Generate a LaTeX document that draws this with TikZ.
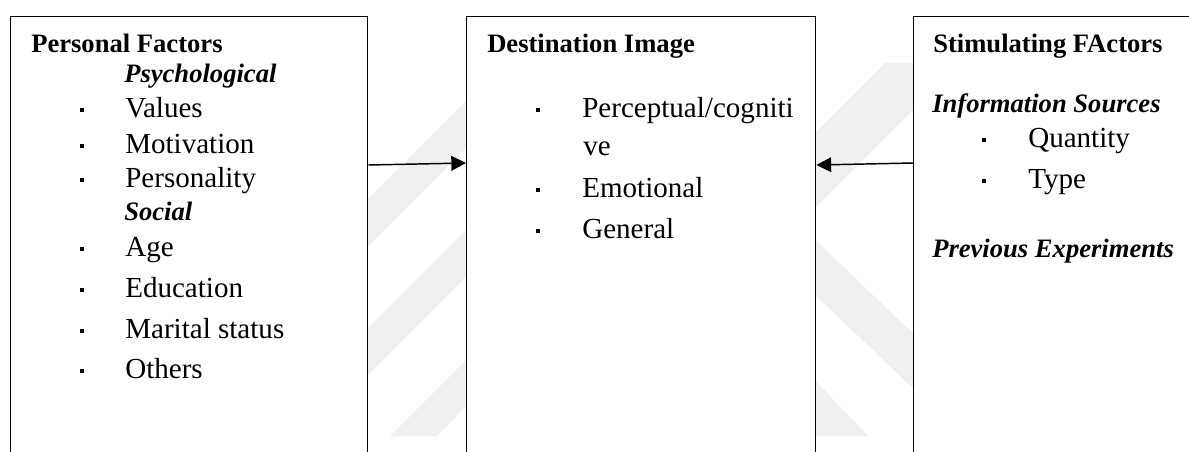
\documentclass[tikz,border=0pt]{standalone}
\usepackage{fontspec}
\setmainfont{Liberation Serif}
\usetikzlibrary{arrows.meta}
\newcommand\hdfnt{\fontsize{19.95}{24}\selectfont\bfseries}
\newcommand\subfnt{\fontsize{19.95}{24}\selectfont\bfseries\itshape}
\newcommand\itemfnt{\fontsize{21.8}{26}\selectfont}
\newcommand\bulsq{\rule[4.1pt]{2.3pt}{2.3pt}}
\tikzset{
  boxst/.style={draw, line width=1.1pt, fill=white, anchor=north west, inner sep=0pt},
  hd/.style={anchor=base west, inner sep=0pt, font=\hdfnt},
  sub/.style={anchor=base west, inner sep=0pt, font=\subfnt},
  txt/.style={anchor=base west, inner sep=0pt, font=\itemfnt},
  bul/.style={anchor=base, inner sep=0pt, font=\itemfnt},
  arr/.style={line width=1.1pt, -{Triangle[length=11pt,width=11pt]}},
  wm/.style={fill=black!6, draw=none}
}
\begin{document}
\begin{tikzpicture}[x=0.75pt, y=-0.75pt]
\useasboundingbox (0,0) rectangle (1189,451);
\clip (0,0) rectangle (1189,451);
% watermark
\fill[wm] (360,207) -- (470,97) -- (470,144) -- (360,254) -- cycle;
\fill[wm] (360,336) -- (470,226) -- (470,273) -- (360,383) -- cycle;
\fill[wm] (390,436) -- (470,356) -- (470,402) -- (437,436) -- cycle;
\fill[wm] (885,63) -- (920,63) -- (920,103) -- (808,215) -- (808,140) -- cycle;
\fill[wm] (808,233) -- (920,340) -- (920,395) -- (808,288) -- cycle;
\fill[wm] (808,373) -- (868,436) -- (808,436) -- cycle;
% boxes
\node[boxst, minimum width=267.75pt, minimum height=340.5pt] (L) at (10,16) {};
\node[boxst, minimum width=261.75pt, minimum height=340.5pt] (M) at (466,16) {};
\node[boxst, minimum width=215.25pt, minimum height=340.5pt] (R) at (913,16) {};
% left box text
\node[hd] (l0) at (31,52) {Personal Factors};
\node[sub] (l1) at (124,82) {Psychological};
\node[bul] (lb1) at (82,117) {\bulsq};
\node[txt] (l2) at (125,117) {Values};
\node[bul] (lb2) at (82,153) {\bulsq};
\node[txt] (l3) at (125,153) {Motivation};
\node[bul] (lb3) at (82,187) {\bulsq};
\node[txt] (l4) at (125,187) {Personality};
\node[sub] (l5) at (124,220) {Social};
\node[bul] (lb4) at (82,256) {\bulsq};
\node[txt] (l6) at (125,256) {Age};
\node[bul] (lb5) at (82,297) {\bulsq};
\node[txt] (l7) at (125,297) {Education};
\node[bul] (lb6) at (82,338) {\bulsq};
\node[txt] (l8) at (125,338) {Marital status};
\node[bul] (lb7) at (82,378) {\bulsq};
\node[txt] (l9) at (125,378) {Others};
% middle box text
\node[hd] (m0) at (487,52) {Destination Image};
\node[bul] (mb1) at (538,117) {\bulsq};
\node[txt] (m1) at (582,117) {Perceptual/cogniti};
\node[txt] (m2) at (583,155) {ve};
\node[bul] (mb2) at (538,197) {\bulsq};
\node[txt] (m3) at (582,197) {Emotional};
\node[bul] (mb3) at (538,238) {\bulsq};
\node[txt] (m4) at (582,238) {General};
% right box text
\node[hd] (r0) at (933,52) {Stimulating FActors};
\node[sub] (r1) at (932,112) {Information Sources};
\node[bul] (rb1) at (984,147) {\bulsq};
\node[txt] (r2) at (1028,147) {Quantity};
\node[bul] (rb2) at (984,188) {\bulsq};
\node[txt] (r3) at (1028,188) {Type};
\node[sub] (r4) at (932,257) {Previous Experiments};
% arrows
\draw[arr] ([yshift=-111.75pt]L.north east) -- ([yshift=-110.25pt]M.north west);
\draw[arr] ([yshift=-110.25pt]R.north west) -- ([yshift=-111.75pt]M.north east);
\end{tikzpicture}
\end{document}
